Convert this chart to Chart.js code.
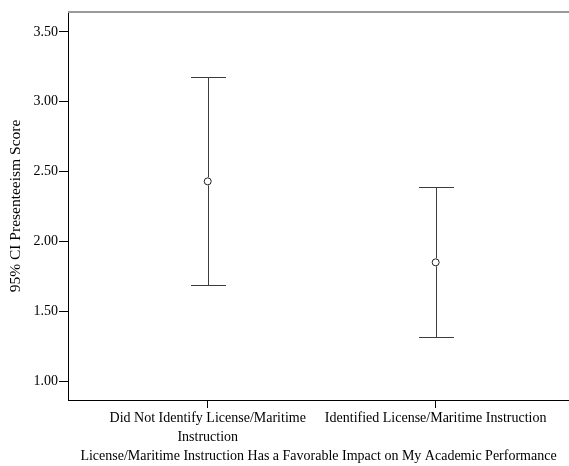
<!DOCTYPE html>
<html lang="en">
<head>
    <meta charset="UTF-8">
    <title>95% CI Presenteeism Score</title>
    <script src="https://cdn.jsdelivr.net/npm/chart.js"></script>
    <style>
        body {
            margin: 0;
            background: white;
        }
        canvas {
            display: block;
        }
    </style>
</head>
<body>

    <canvas id="ciChart" width="569" height="466"></canvas>

    <script>
        // values
        const groups = [
            ['Did Not Identify License/Maritime', 'Instruction'],
            ['Identified License/Maritime Instruction']
        ];
        const groupPos = [1, 2];
        const means = [2.43, 1.85];
        const lower = [1.69, 1.315];
        const upper = [3.18, 2.39];
        const yTicks = [1.00, 1.50, 2.00, 2.50, 3.00, 3.50];

        const serif = '"Liberation Serif", "Times New Roman", serif';
        const font = { family: serif, size: 14 };

        // whiskers + caps, placed through the chart scales
        const errorBars = {
            id: 'errorBars',
            afterDatasetsDraw(chart) {
                const ctx = chart.ctx;
                const x = chart.scales.x, y = chart.scales.y;
                const cap = 17.5;
                ctx.save();
                ctx.strokeStyle = '#3c3c3c';
                ctx.lineWidth = 1;
                groupPos.forEach((g, i) => {
                    const px = Math.round(x.getPixelForValue(g)) + 0.5;
                    const top = Math.round(y.getPixelForValue(upper[i])) + 0.5;
                    const bot = Math.round(y.getPixelForValue(lower[i])) + 0.5;
                    const mid = y.getPixelForValue(means[i]);
                    ctx.beginPath();
                    ctx.moveTo(px, top);
                    ctx.lineTo(px, mid - 4);
                    ctx.moveTo(px, mid + 4);
                    ctx.lineTo(px, bot);
                    ctx.moveTo(px - cap, top);
                    ctx.lineTo(px + cap, top);
                    ctx.moveTo(px - cap, bot);
                    ctx.lineTo(px + cap, bot);
                    ctx.stroke();
                });
                // grey frame line on top
                ctx.strokeStyle = '#9a9a9a';
                ctx.lineWidth = 2;
                ctx.beginPath();
                ctx.moveTo(chart.chartArea.left, chart.chartArea.top);
                ctx.lineTo(chart.chartArea.right, chart.chartArea.top);
                ctx.stroke();
                ctx.restore();
            }
        };

        new Chart(document.getElementById('ciChart'), {
            type: 'scatter',
            data: {
                datasets: [{
                    label: 'Mean',
                    data: groupPos.map((g, i) => ({ x: g, y: means[i] })),
                    pointStyle: 'circle',
                    pointRadius: 3.5,
                    pointBorderWidth: 1,
                    pointBorderColor: '#222',
                    pointBackgroundColor: 'rgba(0,0,0,0)'
                }]
            },
            options: {
                responsive: false,
                animation: false,
                layout: { autoPadding: false, padding: { top: 12, left: 3, right: 0 } },
                plugins: {
                    legend: { display: false },
                    tooltip: { enabled: false }
                },
                scales: {
                    x: {
                        type: 'linear',
                        min: 0.387,
                        max: 2.585,
                        afterBuildTicks: scale => {
                            scale.ticks = groupPos.map(v => ({ value: v }));
                        },
                        afterFit: scale => { scale.height = 66; },
                        ticks: {
                            color: '#000',
                            font: { family: serif, size: 14, lineHeight: 1.35 },
                            padding: 1,
                            maxRotation: 0,
                            autoSkip: false,
                            callback: v => groups[groupPos.indexOf(v)]
                        },
                        grid: {
                            drawOnChartArea: false,
                            tickLength: 8,
                            color: '#000'
                        },
                        border: { color: '#000', width: 1 },
                        title: {
                            display: true,
                            text: 'License/Maritime Instruction Has a Favorable Impact on My Academic Performance',
                            color: '#000',
                            font: font,
                            padding: { top: 4, bottom: 1 }
                        }
                    },
                    y: {
                        min: 0.864,
                        max: 3.643,
                        afterBuildTicks: scale => {
                            scale.ticks = yTicks.map(v => ({ value: v }));
                        },
                        afterFit: scale => { scale.width = 65; },
                        ticks: {
                            color: '#000',
                            font: font,
                            padding: 1,
                            callback: v => v.toFixed(2)
                        },
                        grid: {
                            drawOnChartArea: false,
                            tickLength: 9,
                            color: '#000'
                        },
                        border: { color: '#000', width: 1 },
                        title: {
                            display: true,
                            text: '95% CI Presenteeism Score',
                            color: '#000',
                            font: { family: serif, size: 15.5 },
                            padding: { top: 4, bottom: 4 }
                        }
                    }
                }
            },
            plugins: [errorBars]
        });
    </script>

</body>
</html>
